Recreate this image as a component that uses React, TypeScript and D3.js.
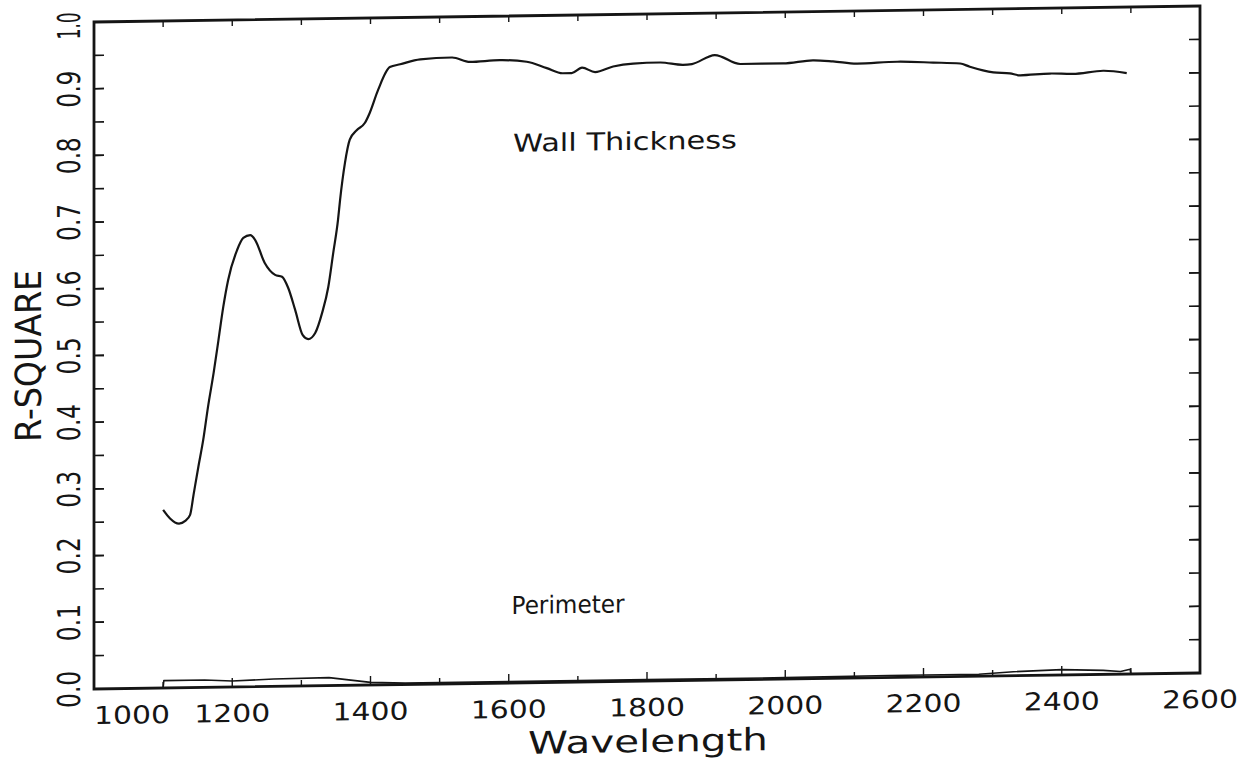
import React from "react";
import * as d3 from "d3";

// ---- data ----
const wallWavelength = [
  1100, 1110, 1123, 1132, 1139, 1144, 1151, 1158, 1165, 1173, 1180, 1187, 1194, 1207, 1216,
  1226, 1233, 1247, 1262, 1272, 1281, 1291, 1302, 1310, 1320, 1330, 1339, 1346, 1353, 1356,
  1363, 1370, 1380, 1392, 1399, 1411, 1428, 1443, 1472, 1518, 1544, 1587, 1626, 1655, 1678,
  1691, 1706, 1725, 1751, 1780, 1819, 1852, 1865, 1898, 1935, 1997, 2040, 2069, 2104, 2162,
  2214, 2253, 2267, 2301, 2325, 2340, 2383, 2416, 2460, 2494,
];
const wallRSquare = [
  0.267, 0.254, 0.246, 0.25, 0.259, 0.289, 0.331, 0.371, 0.421, 0.471, 0.52, 0.57, 0.61, 0.655, 0.673,
  0.677, 0.67, 0.635, 0.617, 0.614, 0.597, 0.564, 0.526, 0.52, 0.529, 0.559, 0.598, 0.648, 0.698, 0.728,
  0.783, 0.818, 0.832, 0.843, 0.858, 0.892, 0.926, 0.93, 0.937, 0.939, 0.932, 0.934, 0.931, 0.921, 0.913,
  0.913, 0.921, 0.914, 0.922, 0.926, 0.927, 0.923, 0.924, 0.937, 0.923, 0.923, 0.927, 0.925, 0.921, 0.923,
  0.921, 0.919, 0.914, 0.905, 0.903, 0.9, 0.902, 0.901, 0.905, 0.901,
];
const perimWavelength = [
  1100, 1101, 1160, 1200, 1260, 1340, 1400, 1450, 1600, 1800, 2000, 2150, 2280, 2330, 2400, 2460,
  2485, 2499, 2500,
];
const perimRSquare = [
  0.0, 0.011, 0.011, 0.009, 0.011, 0.012, 0.004, 0.002, 0.002, 0.002, 0.002, 0.003, 0.003, 0.006,
  0.008, 0.006, 0.004, 0.007, 0.0,
];
const xTickLabels = [1000, 1200, 1400, 1600, 1800, 2000, 2200, 2400, 2600];
const yTickLabels = [0.0, 0.1, 0.2, 0.3, 0.4, 0.5, 0.6, 0.7, 0.8, 0.9, 1.0];
const xMinorTicks = d3.range(1100, 2600, 100);
const yMinorTicks = d3.range(0.05, 1.0, 0.05);
const xTitle = "Wavelength";
const yTitle = "R-SQUARE";
const wallLabel = "Wall Thickness";
const perimLabel = "Perimeter";

const W = 1255;
const H = 762;
const L = 94;
const R = 1200;
const T = 22;
const B = 689;
const SKEW = -0.01447; // page is slightly skewed in the scan

const FONT = "'DejaVu Sans', sans-serif";
const INK = "#151515";

export default function App() {
  const x = d3.scaleLinear().domain([1000, 2600]).range([L, R]);
  const y = d3.scaleLinear().domain([0, 1]).range([B, T]);

  const wallData = wallWavelength.map((w, i) => [w, wallRSquare[i]] as [number, number]);
  const perimData = perimWavelength.map((w, i) => [w, perimRSquare[i]] as [number, number]);

  const wallLine = d3
    .line<[number, number]>()
    .x((d) => x(d[0]))
    .y((d) => y(d[1]))
    .curve(d3.curveMonotoneX);
  const perimLine = d3
    .line<[number, number]>()
    .x((d) => x(d[0]))
    .y((d) => y(d[1]))
    .curve(d3.curveLinear);

  const xLabelW = 76;
  const fmtY = d3.format(".1f");
  const yFont = 31.5;
  const yNatural = (0.636 * 2 + 0.318) * yFont;

  return (
    <svg
      width={W}
      height={H}
      style={{ position: "absolute", left: 0, top: 0, background: "#fff" }}
    >
      <rect x={0} y={0} width={W} height={H} fill="#fff" />
      <g transform={`matrix(1, ${SKEW}, 0, 1, 0, ${-SKEW * L})`}>
        {/* frame */}
        <rect x={L} y={T} width={R - L} height={B - T} fill="none" stroke={INK} strokeWidth={2.8} />

        {/* left ticks */}
        {yMinorTicks.concat(yTickLabels.slice(1, -1)).map((v, i) => (
          <line key={"ly" + i} x1={L} x2={L + 10} y1={y(v)} y2={y(v)} stroke={INK} strokeWidth={1.6} />
        ))}
        {/* right ticks */}
        {yMinorTicks.concat(yTickLabels.slice(1, -1)).map((v, i) => (
          <line key={"ry" + i} x1={R} x2={R - 11} y1={y(v)} y2={y(v)} stroke={INK} strokeWidth={1.6} />
        ))}
        {/* top ticks */}
        {xMinorTicks.map((v, i) => (
          <line key={"tx" + i} x1={x(v)} x2={x(v)} y1={T} y2={T + 6} stroke={INK} strokeWidth={1.4} />
        ))}
        {/* bottom ticks */}
        {xMinorTicks.map((v, i) => (
          <line
            key={"bx" + i}
            x1={x(v)}
            x2={x(v)}
            y1={B}
            y2={B - (v % 200 === 0 ? 9 : 6)}
            stroke={INK}
            strokeWidth={1.4}
          />
        ))}

        {/* x tick labels */}
        {xTickLabels.map((v, i) => {
          const cx = Math.max(x(v), L + 2 + xLabelW / 2 - 2);
          return (
            <text
              key={"xl" + i}
              x={cx}
              y={724}
              textAnchor="middle"
              fontFamily={FONT}
              fontSize={24.6}
              textLength={xLabelW}
              lengthAdjust="spacingAndGlyphs"
              fill={INK}
            >
              {v}
            </text>
          );
        })}

        {/* y tick labels */}
        {yTickLabels.map((v, i) => {
          const s = fmtY(v);
          const len = s.startsWith("1") ? 27 : 37;
          const cy = Math.max(y(v), 12 + len / 2);
          return (
            <text
              key={"yl" + i}
              transform={`translate(80, ${cy}) rotate(-90) scale(${len / yNatural}, 1)`}
              textAnchor="middle"
              fontFamily={FONT}
              fontSize={yFont}
              fill={INK}
            >
              {s}
            </text>
          );
        })}

        {/* axis titles */}
        <text
          x={648}
          y={760}
          textAnchor="middle"
          fontFamily={FONT}
          fontSize={31}
          textLength={240}
          lengthAdjust="spacingAndGlyphs"
          fill={INK}
        >
          {xTitle}
        </text>
        <text
          transform={`translate(41, 355) rotate(-90)`}
          textAnchor="middle"
          fontFamily={FONT}
          fontSize={36}
          textLength={172}
          lengthAdjust="spacingAndGlyphs"
          fill={INK}
        >
          {yTitle}
        </text>

        {/* series labels */}
        <text
          x={625}
          y={157.7}
          textAnchor="middle"
          fontFamily={FONT}
          fontSize={24.6}
          textLength={224}
          lengthAdjust="spacingAndGlyphs"
          fill={INK}
        >
          {wallLabel}
        </text>
        <text
          x={568}
          y={620}
          textAnchor="middle"
          fontFamily={FONT}
          fontSize={24.6}
          textLength={113}
          lengthAdjust="spacingAndGlyphs"
          fill={INK}
        >
          {perimLabel}
        </text>

        {/* curves */}
        <path d={wallLine(wallData) || ""} fill="none" stroke={INK} strokeWidth={2.2} strokeLinejoin="round" />
        <path d={perimLine(perimData) || ""} fill="none" stroke={INK} strokeWidth={1.6} strokeLinejoin="round" />
      </g>
    </svg>
  );
}
